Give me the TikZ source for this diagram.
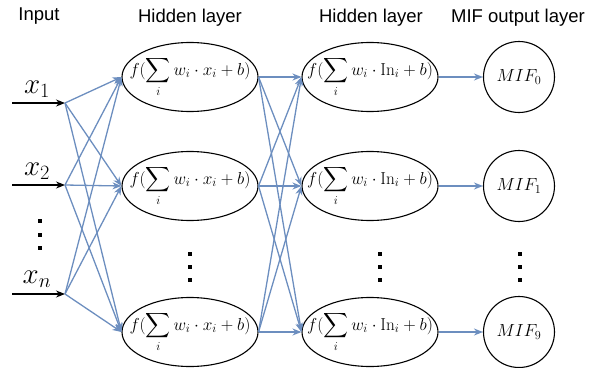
\documentclass[tikz,border=0pt]{standalone}
\usepackage{fix-cm}
\usepackage{amsmath}
\usepackage[no-math]{fontspec}
\newfontfamily\headfont{Liberation Sans}
\usetikzlibrary{shapes.geometric,arrows.meta}
\definecolor{linkblue}{RGB}{108,142,191}
\newcommand{\nsum}[1]{\makebox[0pt]{$\displaystyle f(\sum_i w_i\cdot #1+b)$}}

\tikzset{
  head/.style={font=\headfont\fontsize{18.5}{22}\selectfont},
  neuron/.style={ellipse,draw,line width=1.1pt,minimum width=136pt,minimum height=69pt,inner sep=0pt,font=\fontsize{17.3}{21}\selectfont},
  mif/.style={circle,draw,line width=1.1pt,minimum size=71pt,inner sep=0pt,font=\fontsize{17.5}{20}\selectfont},
  link/.style={draw=linkblue,line width=1.3pt,-{Stealth[length=9pt,width=7pt]}},
  feed/.style={black,line width=1.2pt,-{Stealth[length=9pt,width=7pt]}},
  sqdot/.style={fill=black,minimum size=4.5pt,inner sep=0pt},
  xin/.style={font=\fontsize{29}{34}\selectfont}
}

\begin{document}
\begin{tikzpicture}[x=1pt,y=-1pt]
                    \useasboundingbox (0,0) rectangle (597,367);
                    \node[head] (tin) at (39,16) {Input};
                    \node[head] (ta) at (190,18) {Hidden layer};
                    \node[head] (tb) at (371,18) {Hidden layer};
                    \node[head] (tc) at (518,18) {MIF output layer};
                    \coordinate (s1) at (12,103);
                    \coordinate (s2) at (12,185);
                    \coordinate (s3) at (12,294);
                    \coordinate (p1) at (65,103);
                    \coordinate (p2) at (65,185);
                    \coordinate (p3) at (65,294);
                    \node[xin] (x1) at (37,89) {$x_1$};
                    \node[xin] (x2) at (37,171) {$x_2$};
                    \node[xin] (x3) at (37,279) {$x_n$};
                    \node[neuron] (h1) at (190,77) {\nsum{x_i}};
                    \node[neuron] (h2) at (190,186) {\nsum{x_i}};
                    \node[neuron] (h3) at (190,332) {\nsum{x_i}};
                    \node[neuron] (g1) at (370,77) {\nsum{\mathrm{In}_i}};
                    \node[neuron] (g2) at (370,186) {\nsum{\mathrm{In}_i}};
                    \node[neuron] (g3) at (370,332) {\nsum{\mathrm{In}_i}};
                    \node[mif] (m1) at (519,77) {$MIF_0$};
                    \node[mif] (m2) at (519,186) {$MIF_1$};
                    \node[mif] (m3) at (519,332) {$MIF_9$};
                    \foreach \r [count=\k] in {221,235,248}{
                    \node[sqdot] (din\k) at (40,\r) {};
                    }
                    \foreach \c in {190,380,520}{
                    \foreach \r [count=\k] in {254,267,280}{
                    \node[sqdot] (d\c\k) at (\c,\r) {};
                    }
                    }
                    \foreach \k in {1,2,3}{
                    \draw[feed] (s\k) -- (p\k);
                    \draw[link] (g\k.east) -- (m\k.west);
                    \foreach \j in {1,2,3}{
                    \draw[link] (p\k) -- (h\j.west);
                    \draw[link] (h\k.east) -- (g\j.west);
                    }
                    }
                    \end{tikzpicture}
\end{document}
